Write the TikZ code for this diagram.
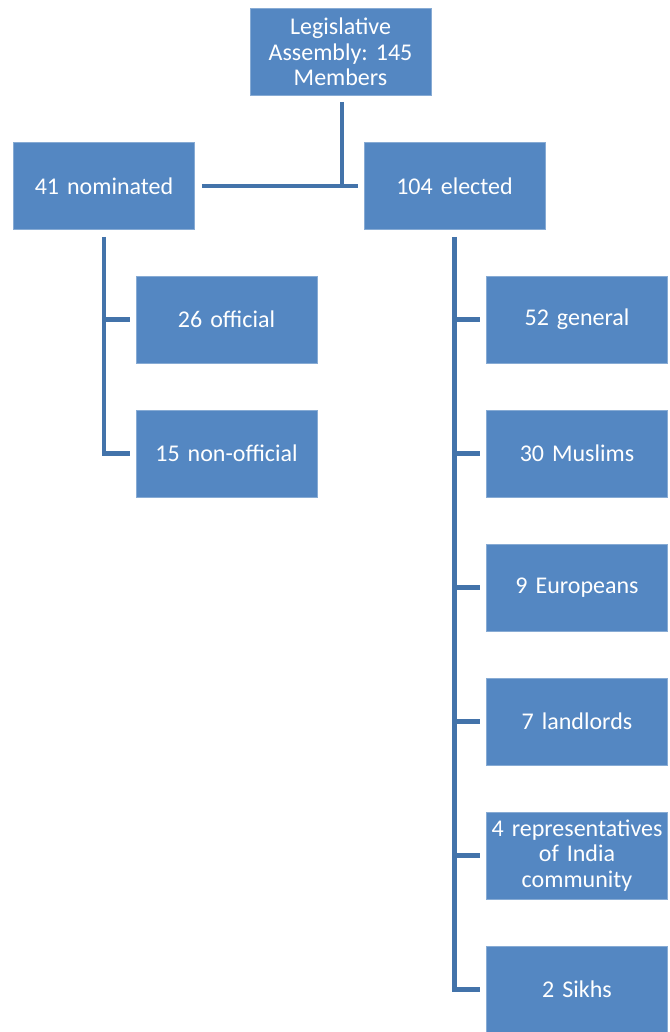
\documentclass[tikz,border=0pt]{standalone}
\usepackage{fontspec}
\setmainfont{Carlito}
\usetikzlibrary{calc}
\definecolor{boxfill}{HTML}{5487C2}
\definecolor{linec}{HTML}{4373AA}
\begin{document}
\frenchspacing
\begin{tikzpicture}[x=1pt,y=-1pt,
  orgbox/.style={rectangle,fill=boxfill,draw=boxfill!70!white,line width=0.6pt,
    minimum width=181pt,minimum height=87pt,inner sep=1pt,text=white,
    font=\fontsize{24}{25.5}\selectfont,align=center,text width=179pt},
  conn/.style={draw=linec,line width=4.5pt}]
\useasboundingbox (0,0) rectangle (669,1032);
\node[orgbox] (top) at (340.5,52) {Legislative\\Assembly: 145\\Members};
\node[orgbox] (nom) at (104,186) {41 nominated};
\node[orgbox] (ele) at (454.5,186) {104 elected};
\node[orgbox] (off) at (226.5,319.5) {26 official};
\node[orgbox] (non) at (226.5,453.5) {15 non-official};
\node[orgbox] (gen) at (577,319.5) {52 general};
\node[orgbox] (mus) at (577,453.5) {30 Muslims};
\node[orgbox] (eur) at (577,587.5) {9 Europeans};
\node[orgbox] (lan) at (577,721.5) {7 landlords};
\node[orgbox] (rep) at (577,855.5) {4 representatives\\of India\\community};
\node[orgbox] (sik) at (577,989.5) {2 Sikhs};
% top to level 2
\coordinate (tj) at ($(top.south)+(1.5,6)$);
\coordinate (tm) at (tj |- nom.east);
\draw[conn] (tj) -- (tm);
\draw[conn] ($(nom.east)+(7,0)$) -- ($(ele.west)+(-6,0)$);
% nominated branch
\coordinate (nv) at ($(nom.south)+(0,7)$);
\draw[conn] (nv) -- (nv |- non.west) -- ($(non.west)+(-6,0)$);
\draw[conn] (nv |- off.west) -- ($(off.west)+(-6,0)$);
% elected branch
\coordinate (ev) at ($(ele.south)+(0,7)$);
\draw[conn] (ev) -- (ev |- sik.west) -- ($(sik.west)+(-6,0)$);
\foreach \n in {gen,mus,eur,lan,rep}{
  \draw[conn] (ev |- \n.west) -- ($(\n.west)+(-6,0)$);
}
\end{tikzpicture}
\end{document}
